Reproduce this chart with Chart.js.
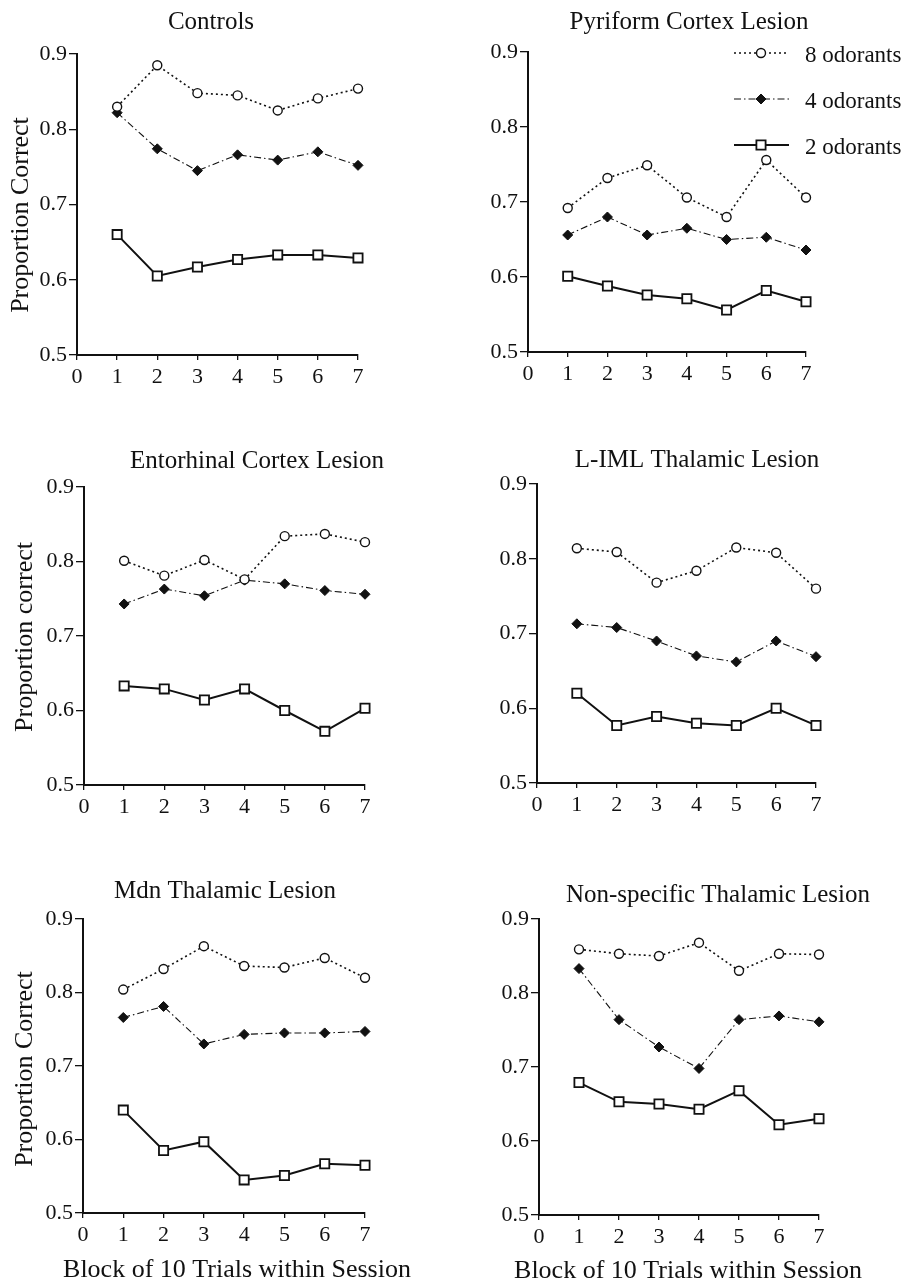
<!DOCTYPE html>
<html><head><meta charset="utf-8">
<script src="https://cdn.jsdelivr.net/npm/chart.js@4/dist/chart.umd.min.js"></script>
<style>
html,body{margin:0;padding:0;background:#fff;}
#wrap{position:relative;width:913px;height:1286px;overflow:hidden;background:#fff;}
canvas{position:absolute;left:0;top:0;pointer-events:none;}
</style></head><body><div id="wrap">
<canvas id="c0" width="913" height="1286"></canvas>
<canvas id="c1" width="913" height="1286"></canvas>
<canvas id="c2" width="913" height="1286"></canvas>
<canvas id="c3" width="913" height="1286"></canvas>
<canvas id="c4" width="913" height="1286"></canvas>
<canvas id="c5" width="913" height="1286"></canvas>
</div>
<script>
// ---------- data ----------
const blocks = [1, 2, 3, 4, 5, 6, 7];
const xTicks = [0, 1, 2, 3, 4, 5, 6, 7];
const xTickLabels = ['0', '1', '2', '3', '4', '5', '6', '7'];
const yTicks = [0.5, 0.6, 0.7, 0.8, 0.9];
const yTickLabels = ['0.5', '0.6', '0.7', '0.8', '0.9'];
const seriesNames = ['8 odorants', '4 odorants', '2 odorants'];
const panelTitles = ['Controls', 'Pyriform Cortex Lesion', 'Entorhinal Cortex Lesion',
  'L-IML Thalamic Lesion', 'Mdn Thalamic Lesion', 'Non-specific Thalamic Lesion'];
const yTitles = ['Proportion Correct', '', 'Proportion correct', '', 'Proportion Correct', ''];
const xTitles = ['', '', '', '', 'Block of 10 Trials within Session', 'Block of 10 Trials within Session'];

const controls8 = [0.830, 0.885, 0.848, 0.845, 0.825, 0.841, 0.854];
const controls4 = [0.822, 0.774, 0.745, 0.766, 0.759, 0.770, 0.752];
const controls2 = [0.660, 0.605, 0.617, 0.627, 0.633, 0.633, 0.629];

const pyriform8 = [0.692, 0.732, 0.749, 0.706, 0.680, 0.756, 0.706];
const pyriform4 = [0.656, 0.680, 0.656, 0.665, 0.650, 0.653, 0.636];
const pyriform2 = [0.601, 0.588, 0.576, 0.571, 0.556, 0.582, 0.567];

const entorhinal8 = [0.801, 0.781, 0.802, 0.776, 0.834, 0.837, 0.826];
const entorhinal4 = [0.743, 0.763, 0.754, 0.775, 0.770, 0.761, 0.756];
const entorhinal2 = [0.633, 0.629, 0.614, 0.629, 0.600, 0.572, 0.603];

const liml8 = [0.814, 0.809, 0.768, 0.784, 0.815, 0.808, 0.760];
const liml4 = [0.713, 0.708, 0.690, 0.670, 0.662, 0.690, 0.669];
const liml2 = [0.620, 0.577, 0.589, 0.580, 0.577, 0.600, 0.577];

const mdn8 = [0.804, 0.832, 0.863, 0.836, 0.834, 0.847, 0.820];
const mdn4 = [0.766, 0.781, 0.730, 0.743, 0.745, 0.745, 0.747];
const mdn2 = [0.640, 0.585, 0.597, 0.545, 0.551, 0.567, 0.565];

const nonspec8 = [0.859, 0.853, 0.850, 0.868, 0.830, 0.853, 0.852];
const nonspec4 = [0.833, 0.764, 0.727, 0.698, 0.764, 0.769, 0.761];
const nonspec2 = [0.679, 0.653, 0.650, 0.643, 0.668, 0.622, 0.630];

const panelSeries = [
  [controls8, controls4, controls2],
  [pyriform8, pyriform4, pyriform2],
  [entorhinal8, entorhinal4, entorhinal2],
  [liml8, liml4, liml2],
  [mdn8, mdn4, mdn2],
  [nonspec8, nonspec4, nonspec2]
];

// ---------- layout & style ----------
const W = 913, H = 1286, YW = 60, XH = 40;
const FONT = "'Liberation Serif', 'Times New Roman', Times, serif";
const INK = '#111';
const layout = [
  {L: 77, R: 358, T: 54, B: 355, title: [211, 29], yt: [28, 215], xt: null},
  {L: 528, R: 806, T: 52, B: 352, title: [689, 29], yt: null, xt: null, legend: true},
  {L: 84, R: 365, T: 487, B: 785, title: [257, 468], yt: [32, 637], xt: null},
  {L: 537, R: 816, T: 484, B: 783, title: [697, 467], yt: null, xt: null},
  {L: 83, R: 365, T: 919, B: 1213, title: [225, 898], yt: [32, 1069], xt: [237, 1277]},
  {L: 539, R: 819, T: 919, B: 1215, title: [718, 902], yt: null, xt: [688, 1278]}
];
const styles = [
  {borderColor: INK, borderWidth: 1.6, borderDash: [2, 3], pointStyle: 'circle', pointRadius: 4.5,
   pointBorderWidth: 1.4, pointBackgroundColor: '#fff', pointBorderColor: INK},
  {borderColor: INK, borderWidth: 1.1, borderDash: [7, 3, 1.5, 3], pointStyle: 'rectRot', pointRadius: 5,
   pointBorderWidth: 1, pointBackgroundColor: INK, pointBorderColor: INK},
  {borderColor: INK, borderWidth: 2, borderDash: [], pointStyle: 'rect', pointRadius: 6.5,
   pointBorderWidth: 1.8, pointBackgroundColor: '#fff', pointBorderColor: INK}
];
const legendRows = [53, 99, 145];

function drawMarker(ctx, st, x, y) {
  ctx.fillStyle = st.pointBackgroundColor;
  ctx.strokeStyle = st.pointBorderColor;
  ctx.lineWidth = st.pointBorderWidth;
  ctx.setLineDash([]);
  if (Chart.helpers && Chart.helpers.drawPoint) {
    Chart.helpers.drawPoint(ctx, {pointStyle: st.pointStyle, radius: st.pointRadius, rotation: 0,
      borderWidth: st.pointBorderWidth}, x, y);
  }
}

const textPlugin = {
  id: 'panelText',
  afterDraw(chart) {
    const i = chart.options.panelIndex;
    const p = layout[i];
    const ctx = chart.ctx;
    ctx.save();
    ctx.fillStyle = INK;
    ctx.textBaseline = 'alphabetic';
    ctx.textAlign = 'center';
    ctx.font = '25px ' + FONT;
    ctx.fillText(panelTitles[i], p.title[0], p.title[1]);
    if (p.yt) {
      ctx.save();
      ctx.translate(p.yt[0], p.yt[1]);
      ctx.rotate(-Math.PI / 2);
      ctx.font = '26px ' + FONT;
      ctx.fillText(yTitles[i], 0, 0);
      ctx.restore();
    }
    if (p.xt) {
      ctx.font = '26px ' + FONT;
      ctx.fillText(xTitles[i], p.xt[0], p.xt[1]);
    }
    if (p.legend) {
      ctx.font = '23px ' + FONT;
      ctx.textAlign = 'left';
      ctx.textBaseline = 'middle';
      styles.forEach((st, k) => {
        const y = legendRows[k];
        ctx.strokeStyle = st.borderColor;
        ctx.lineWidth = st.borderWidth;
        ctx.setLineDash(st.borderDash);
        ctx.beginPath();
        ctx.moveTo(734, y); ctx.lineTo(789, y);
        ctx.stroke();
        drawMarker(ctx, st, 761, y);
        ctx.fillStyle = INK;
        ctx.fillText(seriesNames[k], 805, y + 3);
      });
    }
    ctx.restore();
  }
};

panelSeries.forEach((series, i) => {
  const p = layout[i];
  const datasets = series.map((arr, k) => Object.assign({
    label: seriesNames[k],
    data: blocks.map((b, j) => ({x: b, y: arr[j]})),
    fill: false, tension: 0, clip: false
  }, styles[k]));
  new Chart(document.getElementById('c' + i), {
    type: 'line',
    data: {datasets},
    options: {
      panelIndex: i,
      responsive: false, animation: false, devicePixelRatio: 1,
      events: [],
      layout: {padding: {left: p.L - YW, right: W - p.R, top: p.T, bottom: H - p.B - XH}},
      plugins: {legend: {display: false}, tooltip: {enabled: false}, title: {display: false}},
      scales: {
        x: {
          type: 'linear', min: 0, max: 7,
          afterBuildTicks: s => { s.ticks = xTicks.map(v => ({value: v})); },
          afterFit: s => { s.height = XH; },
          ticks: {callback: v => xTickLabels[xTicks.indexOf(v)], font: {family: FONT, size: 22},
            color: INK, padding: 4, maxRotation: 0, autoSkip: false},
          grid: {display: true, drawOnChartArea: false, drawTicks: true, tickLength: 5, color: INK, lineWidth: 1.3},
          border: {display: true, color: INK, width: 2}
        },
        y: {
          type: 'linear', min: 0.5, max: 0.9,
          afterBuildTicks: s => { s.ticks = yTicks.map(v => ({value: v})); },
          afterFit: s => { s.width = YW; },
          ticks: {callback: v => yTickLabels[yTicks.findIndex(t => Math.abs(t - v) < 1e-9)],
            font: {family: FONT, size: 22}, color: INK, padding: 2, autoSkip: false},
          grid: {display: true, drawOnChartArea: false, drawTicks: true, tickLength: 8, color: INK, lineWidth: 1.3},
          border: {display: true, color: INK, width: 2}
        }
      }
    },
    plugins: [textPlugin]
  });
});
</script>
</body></html>
